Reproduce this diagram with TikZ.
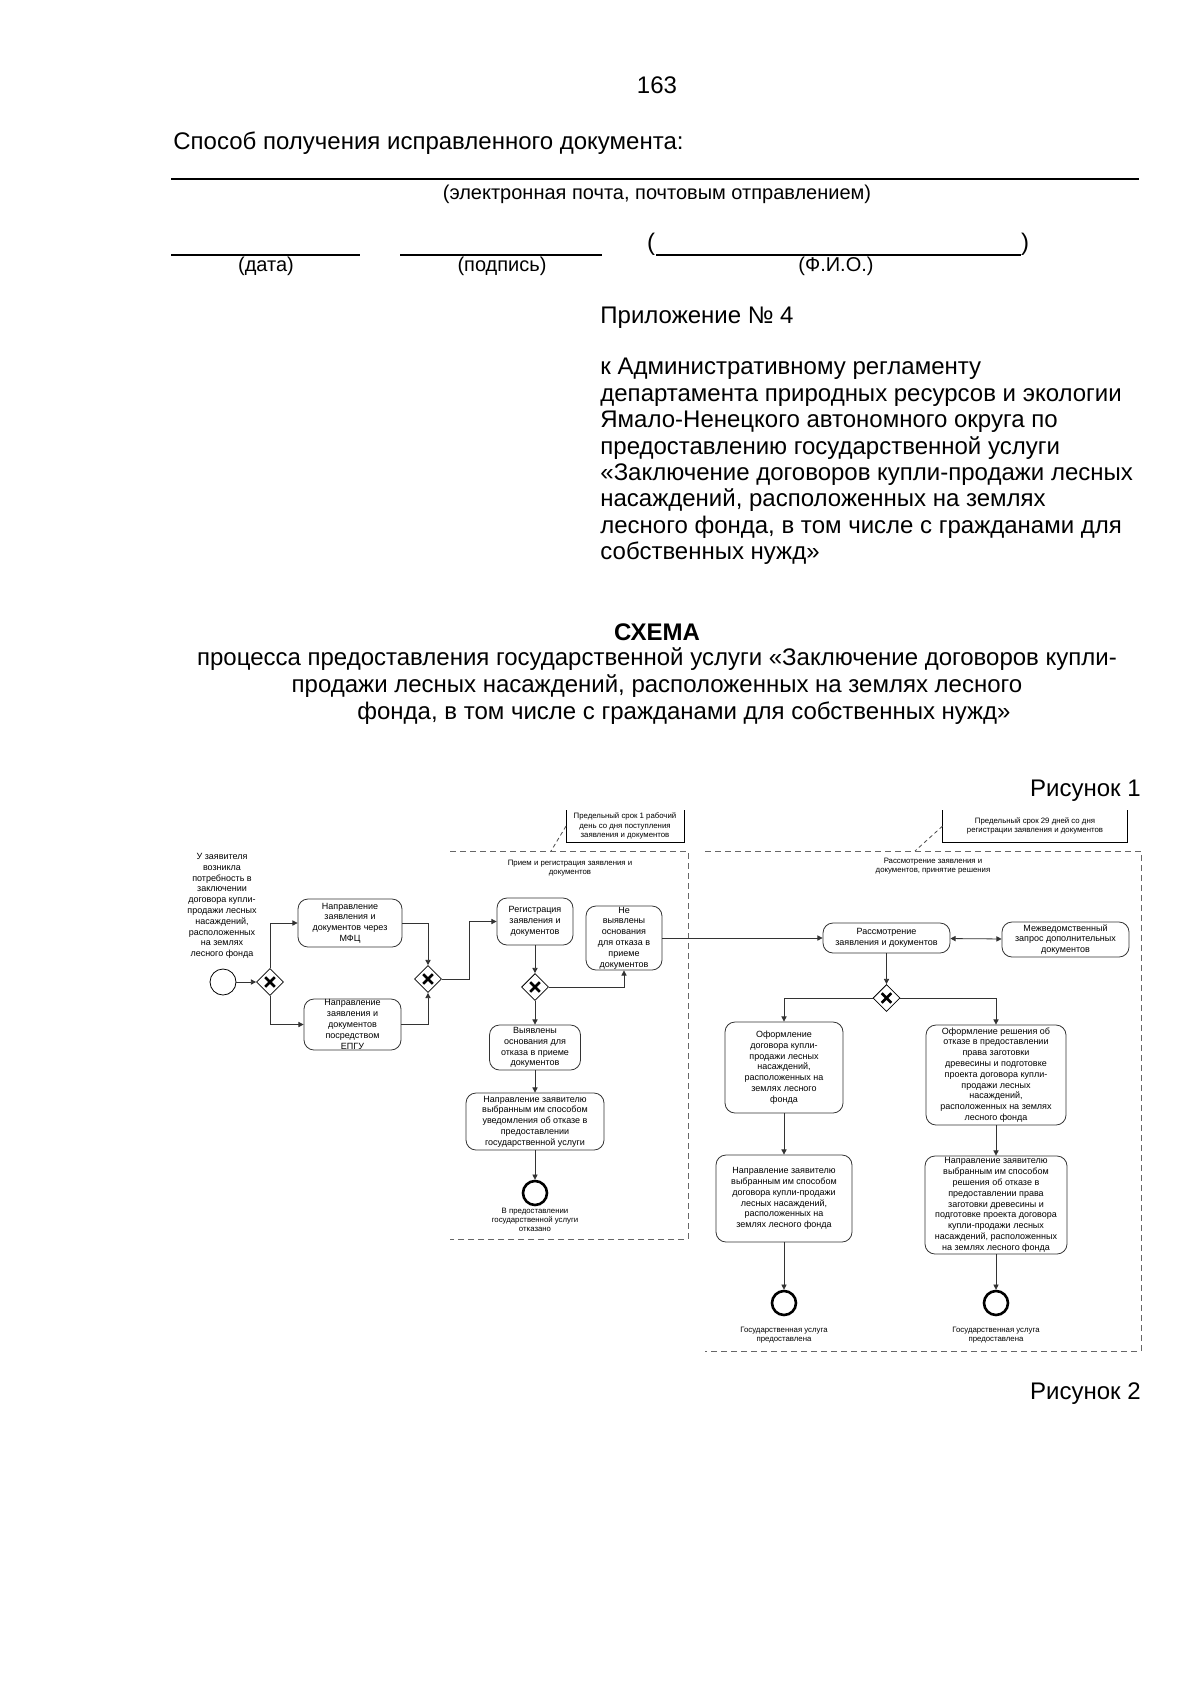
\documentclass[tikz,border=0pt]{standalone}
\usepackage{fontspec}
\setmainfont{Liberation Sans}
\usetikzlibrary{arrows.meta,shapes.geometric}

\begin{document}
\begin{tikzpicture}[x=0.5pt,y=-0.5pt,
  every node/.style={inner sep=0pt},
  body/.style={font=\fontsize{12}{13.2}\selectfont},
  note/.style={font=\fontsize{10}{12}\selectfont},
  dtxt/.style={font=\fontsize{4.5}{5.4}\selectfont, align=center},
  stxt/.style={font=\fontsize{3.9}{4.6}\selectfont, align=center},
  task/.style={dtxt, draw=black!80, line width=0.4pt, rounded corners=5pt},
  gate/.style={diamond, draw, line width=0.4pt, minimum size=13.5pt,
    path picture={\draw[line width=1.3pt]
      ([shift={(-2.4pt,-2.4pt)}]path picture bounding box.center) -- ([shift={(2.4pt,2.4pt)}]path picture bounding box.center)
      ([shift={(-2.4pt,2.4pt)}]path picture bounding box.center) -- ([shift={(2.4pt,-2.4pt)}]path picture bounding box.center);}},
  startev/.style={circle, draw, line width=0.4pt, minimum size=13pt},
  endev/.style={circle, draw, line width=1.3pt, minimum size=12pt},
  flow/.style={-{Triangle[length=2.6pt,width=2.6pt]}, line width=0.4pt, draw=black!80},
  flowb/.style={flow, {Triangle[length=2.6pt,width=2.6pt]}-{Triangle[length=2.6pt,width=2.6pt]}},
  pool/.style={draw=black!60, line width=0.5pt, dash pattern=on 3pt off 2pt},
  assoc/.style={draw=black!70, line width=0.4pt, dash pattern=on 2pt off 1.5pt}]
  \useasboundingbox (0,0) rectangle (1200,1697);

  % header of the form
  \node[body] (pnum) at (657,85) {163};
  \node[body, anchor=west] (sposob) at (173,143) {Способ получения исправленного документа:};
  \draw[line width=0.6pt] (171,179) -- (1139,179);
  \node[note] (sposobn) at (657,194) {(электронная почта, почтовым отправлением)};
  \draw[line width=0.6pt] (171,255) -- (360,255);
  \draw[line width=0.6pt] (400,255) -- (602,255);
  \draw[line width=0.6pt] (656,255) -- (1021,255);
  \node[body] (lpar) at (651,244) {(};
  \node[body] (rpar) at (1025,244) {)};
  \node[note] (data) at (266,266) {(дата)};
  \node[note] (podp) at (502,266) {(подпись)};
  \node[note] (fio) at (836,266) {(Ф.И.О.)};

  \node[body, anchor=west] (pril) at (600,318) {Приложение № 4};
  \node[body, anchor=north west, align=left] (reglament) at (600,358)
    {к Административному регламенту\\
     департамента природных ресурсов и экологии\\
     Ямало-Ненецкого автономного округа по\\
     предоставлению государственной услуги\\
     «Заключение договоров купли-продажи лесных\\
     насаждений, расположенных на землях\\
     лесного фонда, в том числе с гражданами для\\
     собственных нужд»};

  % title
  \node[body, font=\fontsize{12}{13.2}\selectfont\bfseries] (schema) at (657,632) {СХЕМА};
  \node[body] (tit1) at (657,659) {процесса предоставления государственной услуги «Заключение договоров купли-};
  \node[body] (tit2) at (657,686) {продажи лесных насаждений, расположенных на землях лесного};
  \node[body] (tit3) at (684,713) {фонда, в том числе с гражданами для собственных нужд»};
  \node[body, anchor=east] (ris1) at (1141,791) {Рисунок 1};
  \node[body, anchor=east] (ris2) at (1141,1394) {Рисунок 2};

  % pools
  \draw[pool] (450,851) -- (688,851) -- (688,1239) -- (450,1239);
  \draw[pool] (705,851) -- (1141,851) -- (1141,1351) -- (705,1351);
  \node[stxt] (pool1) at (570,868) {Прием и регистрация заявления и\\документов};
  \node[stxt] (pool2) at (933,866) {Рассмотрение заявления и\\документов, принятие решения};

  % annotations
  \node[stxt, minimum width=58.5pt, minimum height=15.5pt] (ann1) at (625,826)
    {Предельный срок 1 рабочий\\день со дня поступления\\заявления и документов};
  \draw[line width=0.4pt] (ann1.north west) -- (ann1.south west) -- (ann1.south east) -- (ann1.north east);
  \node[stxt, minimum width=92pt, minimum height=15.5pt] (ann2) at (1035,826)
    {Предельный срок 29 дней со дня\\регистрации заявления и документов};
  \draw[line width=0.4pt] (ann2.north west) -- (ann2.south west) -- (ann2.south east) -- (ann2.north east);
  \coordinate (p1a) at (551,851);
  \coordinate (p2a) at (915,851);
  \draw[assoc] (ann1.west) -- (p1a);
  \draw[assoc] (ann2.west) -- (p2a);

  % applicant
  \node[dtxt] (need) at (222,906) {У заявителя\\возникла\\потребность в\\заключении\\договора купли-\\продажи лесных\\насаждений,\\расположенных\\на землях\\лесного фонда};
  \node[startev] (start) at (223,982) {};
  \node[gate] (g1) at (270,982) {};
  \node[task, minimum width=52pt, minimum height=24pt] (mfc) at (350,923)
    {Направление\\заявления и\\документов через\\МФЦ};
  \node[task, minimum width=48.5pt, minimum height=25.5pt] (epgu) at (352.5,1024.5)
    {Направление\\заявления и\\документов\\посредством\\ЕПГУ};
  \node[gate] (g2) at (428,979) {};

  % reception
  \node[task, minimum width=38pt, minimum height=23.5pt] (reg) at (535,921.5)
    {Регистрация\\заявления и\\документов};
  \node[gate] (g3) at (535,987) {};
  \node[task, minimum width=38pt, minimum height=32pt] (nevyav) at (624,938)
    {Не\\выявлены\\основания\\для отказа в\\приеме\\документов};
  \node[task, minimum width=45.5pt, minimum height=22.5pt] (vyav) at (535,1047.5)
    {Выявлены\\основания для\\отказа в приеме\\документов};
  \node[task, minimum width=69pt, minimum height=28.5pt] (uved) at (535,1121.5)
    {Направление заявителю\\выбранным им способом\\уведомления об отказе в\\предоставлении\\государственной услуги};
  \node[endev] (end1) at (535,1193) {};
  \node[stxt] (end1t) at (535,1220) {В предоставлении\\государственной услуги\\отказано};

  % review
  \node[task, minimum width=63.5pt, minimum height=15pt] (rassm) at (886.5,938)
    {Рассмотрение\\заявления и документов};
  \node[task, minimum width=63.5pt, minimum height=17.5pt] (mezh) at (1065.5,939.5)
    {Межведомственный\\запрос дополнительных\\документов};
  \node[gate] (g4) at (886.5,998) {};
  \node[task, minimum width=59pt, minimum height=45.5pt] (oform) at (784,1067.5)
    {Оформление\\договора купли-\\продажи лесных\\насаждений,\\расположенных на\\землях лесного\\фонда};
  \node[task, minimum width=70pt, minimum height=50pt] (resh) at (996,1075)
    {Оформление решения об\\отказе в предоставлении\\права заготовки\\древесины и подготовке\\проекта договора купли-\\продажи лесных\\насаждений,\\расположенных на землях\\лесного фонда};
  \node[task, minimum width=68pt, minimum height=43.5pt] (napr2) at (784,1198.5)
    {Направление заявителю\\выбранным им способом\\договора купли-продажи\\лесных насаждений,\\расположенных на\\землях лесного фонда};
  \node[task, minimum width=71pt, minimum height=49pt] (napr3) at (996,1205)
    {Направление заявителю\\выбранным им способом\\решения об отказе в\\предоставлении права\\заготовки древесины и\\подготовке проекта договора\\купли-продажи лесных\\насаждений, расположенных\\на землях лесного фонда};
  \node[endev] (end2) at (784,1303) {};
  \node[endev] (end3) at (996,1303) {};
  \node[stxt] (end2t) at (784,1335) {Государственная услуга\\предоставлена};
  \node[stxt] (end3t) at (996,1335) {Государственная услуга\\предоставлена};

  % flows
  \draw[flow] (start) -- (g1);
  \draw[flow] (g1.north) |- (mfc.west);
  \draw[flow] (g1.south) |- (epgu.west);
  \draw[flow] (mfc.east) -| (g2.north);
  \draw[flow] (epgu.east) -| (g2.south);
  \draw[flow] (g2.east) -- ++(27.5,0) |- (reg.west);
  \draw[flow] (reg) -- (g3);
  \draw[flow] (g3) -- (vyav);
  \draw[flow] (g3.east) -| (nevyav.south);
  \draw[flow] (vyav) -- (uved);
  \draw[flow] (uved) -- (end1);
  \draw[flow] (nevyav.east) -- (rassm.west);
  \draw[flowb] (rassm) -- (mezh);
  \draw[flow] (rassm) -- (g4);
  \draw[flow] (g4.west) -| (oform.north);
  \draw[flow] (g4.east) -| (resh.north);
  \draw[flow] (oform) -- (napr2);
  \draw[flow] (resh) -- (napr3);
  \draw[flow] (napr2) -- (end2);
  \draw[flow] (napr3) -- (end3);
\end{tikzpicture}
\end{document}
